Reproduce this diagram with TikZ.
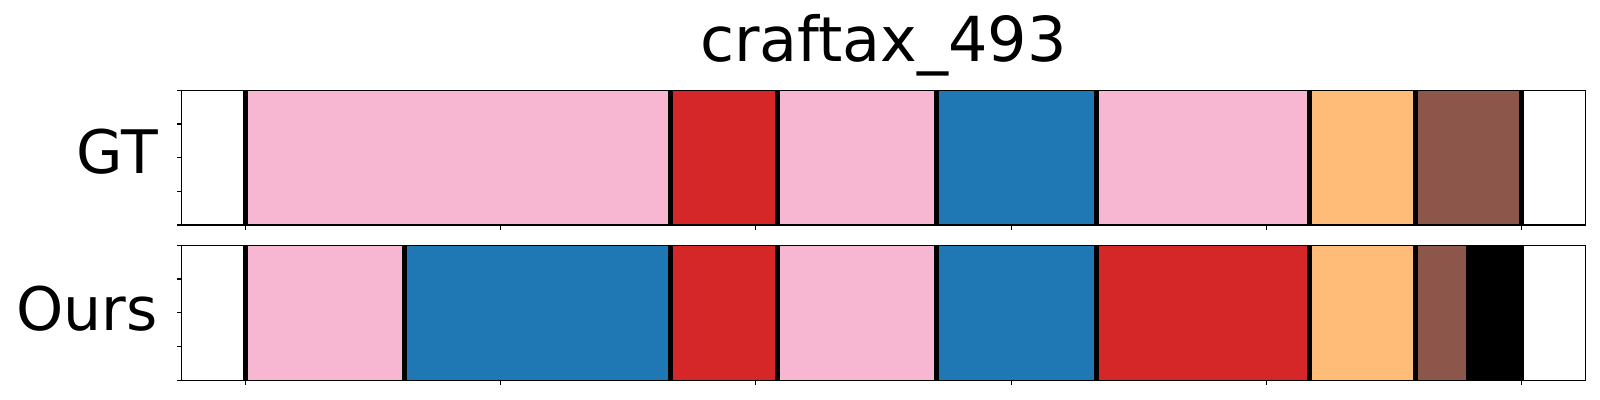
\documentclass[tikz,border=0pt]{standalone}
\usepackage{fontspec}
\setmainfont{DejaVu Sans}
\definecolor{segpink}{HTML}{F7B6D2}
\definecolor{segred}{HTML}{D62728}
\definecolor{segblue}{HTML}{1F77B4}
\definecolor{segorange}{HTML}{FFBB78}
\definecolor{segbrown}{HTML}{8C564B}
\tikzset{
  bigtext/.style={inner sep=0pt, font=\fontsize{30}{36}\selectfont},
  cut/.style={line width=2.5pt, black},
  frame/.style={line width=0.75pt, black},
  tick/.style={line width=0.55pt, black}
}
\begin{document}
\begin{tikzpicture}[x=0.5pt,y=0.5pt,yscale=-1,xscale=1]
\useasboundingbox (0,0) rectangle (1600,400);

% Title
\node (title) [bigtext, font=\fontsize{31}{37}\selectfont, anchor=base] at (883.5,61.7) {craftax\_493};
% Row labels
\node (gtlabel) [bigtext, anchor=base east] at (158.3,174) {GT};
\node (ourslabel) [bigtext, anchor=base east] at (158.3,330.5) {Ours};

%GT segments
\fill [segpink]   (245.3,90.3) rectangle (670.8,225);
\fill [segred]    (670.8,90.3) rectangle (777.2,225);
\fill [segpink]   (777.2,90.3) rectangle (936.8,225);
\fill [segblue]   (936.8,90.3) rectangle (1096.3,225);
\fill [segpink]   (1096.3,90.3) rectangle (1309.1,225);
\fill [segorange] (1309.1,90.3) rectangle (1415.5,225);
\fill [segbrown]  (1415.5,90.3) rectangle (1521.9,225);
%GT boundaries
\draw [cut] (245.3,90.3) -- (245.3,225);
\draw [cut] (670.8,90.3) -- (670.8,225);
\draw [cut] (777.2,90.3) -- (777.2,225);
\draw [cut] (936.8,90.3) -- (936.8,225);
\draw [cut] (1096.3,90.3) -- (1096.3,225);
\draw [cut] (1309.1,90.3) -- (1309.1,225);
\draw [cut] (1415.5,90.3) -- (1415.5,225);
\draw [cut] (1521.9,90.3) -- (1521.9,225);

%Ours segments
\fill [segpink]   (245.3,245.3) rectangle (404.9,380.3);
\fill [segblue]   (404.9,245.3) rectangle (670.8,380.3);
\fill [segred]    (670.8,245.3) rectangle (777.2,380.3);
\fill [segpink]   (777.2,245.3) rectangle (936.8,380.3);
\fill [segblue]   (936.8,245.3) rectangle (1096.3,380.3);
\fill [segred]    (1096.3,245.3) rectangle (1309.1,380.3);
\fill [segorange] (1309.1,245.3) rectangle (1415.5,380.3);
\fill [segbrown]  (1415.5,245.3) rectangle (1465.7,380.3);
\fill [black]     (1465.7,245.3) rectangle (1521.9,380.3);
%Ours boundaries
\draw [cut] (245.3,245.3) -- (245.3,380.3);
\draw [cut] (404.9,245.3) -- (404.9,380.3);
\draw [cut] (670.8,245.3) -- (670.8,380.3);
\draw [cut] (777.2,245.3) -- (777.2,380.3);
\draw [cut] (936.8,245.3) -- (936.8,380.3);
\draw [cut] (1096.3,245.3) -- (1096.3,380.3);
\draw [cut] (1309.1,245.3) -- (1309.1,380.3);
\draw [cut] (1415.5,245.3) -- (1415.5,380.3);
\draw [cut] (1521.9,245.3) -- (1521.9,380.3);

%Axes frames
\draw [frame] (181.5,90.3) rectangle (1585.6,225);
\draw [frame] (181.5,245.3) rectangle (1585.6,380.3);

%Ticks, GT
\draw [tick] (181.5,90.3) -- (176.6,90.3);
\draw [tick] (181.5,124) -- (176.6,124);
\draw [tick] (181.5,157.6) -- (176.6,157.6);
\draw [tick] (181.5,191.3) -- (176.6,191.3);
\draw [tick] (181.5,225) -- (176.6,225);
\draw [tick] (245.3,225) -- (245.3,229.9);
\draw [tick] (500.6,225) -- (500.6,229.9);
\draw [tick] (755.9,225) -- (755.9,229.9);
\draw [tick] (1011.2,225) -- (1011.2,229.9);
\draw [tick] (1266.6,225) -- (1266.6,229.9);
\draw [tick] (1521.9,225) -- (1521.9,229.9);
%Ticks, Ours
\draw [tick] (181.5,245.3) -- (176.6,245.3);
\draw [tick] (181.5,279) -- (176.6,279);
\draw [tick] (181.5,312.8) -- (176.6,312.8);
\draw [tick] (181.5,346.5) -- (176.6,346.5);
\draw [tick] (181.5,380.3) -- (176.6,380.3);
\draw [tick] (245.3,380.3) -- (245.3,385.2);
\draw [tick] (500.6,380.3) -- (500.6,385.2);
\draw [tick] (755.9,380.3) -- (755.9,385.2);
\draw [tick] (1011.2,380.3) -- (1011.2,385.2);
\draw [tick] (1266.6,380.3) -- (1266.6,385.2);
\draw [tick] (1521.9,380.3) -- (1521.9,385.2);
\end{tikzpicture}
\end{document}
